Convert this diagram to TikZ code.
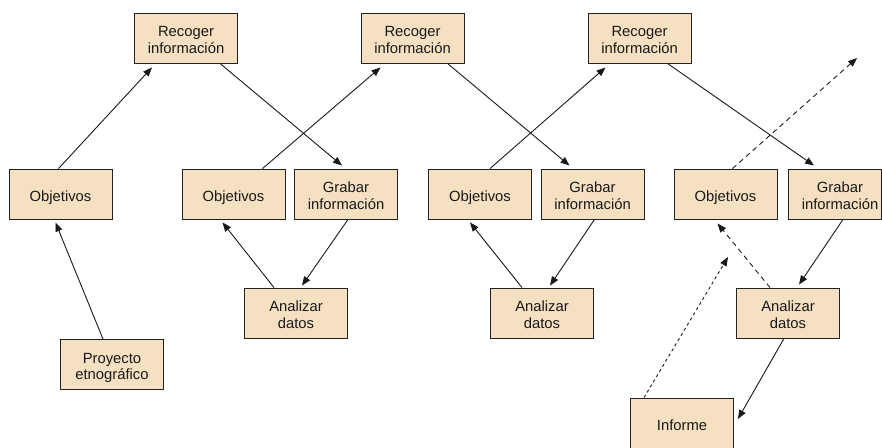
\documentclass[tikz,border=0pt]{standalone}
\usepackage{fontspec}
\setmainfont{Liberation Sans}
\usetikzlibrary{arrows.meta,calc}
\definecolor{boxfill}{RGB}{245,224,193}
\definecolor{boxline}{RGB}{34,34,34}
\tikzset{
  stepbox/.style={draw=boxline, line width=0.9pt, fill=boxfill, minimum width=103pt, minimum height=50pt,
    inner sep=0pt, align=center, font=\fontsize{14.8pt}{16.8pt}\selectfont, text=black!90,
    text height=15.4pt, text depth=0pt},
  twoline/.style={text height=30.6pt, text depth=0pt},
  conn/.style={line width=0.9pt, draw=black!90, -{Triangle[length=9pt,width=7pt]}},
  dconn/.style={conn, dash pattern=on 5pt off 4pt},
  dotconn/.style={conn, dash pattern=on 3pt off 3pt},
}
\begin{document}
\begin{tikzpicture}[x=1pt,y=-1pt]
\useasboundingbox (0,0) rectangle (882,447);
% group 1
\node[stepbox,twoline] (rec1) at (186,38) {Recoger\\información};
\node[stepbox] (obj1) at (60.5,194) {Objetivos};
\node[stepbox,twoline] (proj) at (112,364.5) {Proyecto\\etnográfico};
% group 2
\node[stepbox,twoline] (rec2) at (412.5,38) {Recoger\\información};
\node[stepbox] (obj2) at (233.5,194) {Objetivos};
\node[stepbox,twoline] (grab2) at (346,194) {Grabar\\información};
\node[stepbox,twoline] (ana2) at (296,313) {Analizar\\datos};
% group 3
\node[stepbox,twoline] (rec3) at (639.5,38) {Recoger\\información};
\node[stepbox] (obj3) at (480,194) {Objetivos};
\node[stepbox,twoline] (grab3) at (592.5,194) {Grabar\\información};
\node[stepbox,twoline] (ana3) at (542,313) {Analizar\\datos};
% group 4
\node[stepbox] (obj4) at (725.5,194) {Objetivos};
\node[stepbox,twoline, minimum width=93pt] (grab4) at (834.5,194) {\hspace*{11pt}Grabar\\\hspace*{11pt}información};
\node[stepbox,twoline] (ana4) at (788,313) {Analizar\\datos};
\node[stepbox] (inf) at (682,423) {Informe};
\coordinate (out1) at (857,58);
\coordinate (out2) at (728,257);

% connectors
\draw[conn] ([xshift=-2pt]obj1.north) -- ([shift={(-34,4)}]rec1.south);
\draw[conn] ([xshift=-9pt]proj.north) -- ([shift={(-5,3)}]obj1.south);
\draw[conn] ([xshift=34pt]rec1.south) -- ([shift={(-4,-3)}]grab2.north);

\draw[conn] ([xshift=29pt]obj2.north) -- ([shift={(-32,4)}]rec2.south);
\draw[conn] ([xshift=35pt]rec2.south) -- ([shift={(-23,-3)}]grab3.north);
\draw[conn] ([xshift=2pt]grab2.south) -- ([shift={(6,-2)}]ana2.north);
\draw[conn] ([xshift=-22pt]ana2.north) -- ([shift={(-11,3)}]obj2.south);

\draw[conn] ([xshift=10pt]obj3.north) -- ([shift={(-34,4)}]rec3.south);
\draw[conn] ([xshift=28pt]rec3.south) -- ([shift={(-20.5,-3)}]grab4.north);
\draw[conn] ([xshift=2pt]grab3.south) -- ([shift={(8,-2)}]ana3.north);
\draw[conn] ([xshift=-20pt]ana3.north) -- ([shift={(-10,3)}]obj3.south);

\draw[dconn] ([xshift=7pt]obj4.north) -- (out1);
\draw[conn] ([xshift=8.5pt]grab4.south) -- ([shift={(11,-3)}]ana4.north);
\draw[dconn] ([xshift=-18pt]ana4.north) -- ([shift={(-8,4)}]obj4.south);
\draw[conn] ([xshift=-4pt]ana4.south) -- ([shift={(4,-4)}]inf.east);
\draw[dotconn] ([xshift=-38pt]inf.north) -- (out2);
\end{tikzpicture}
\end{document}
